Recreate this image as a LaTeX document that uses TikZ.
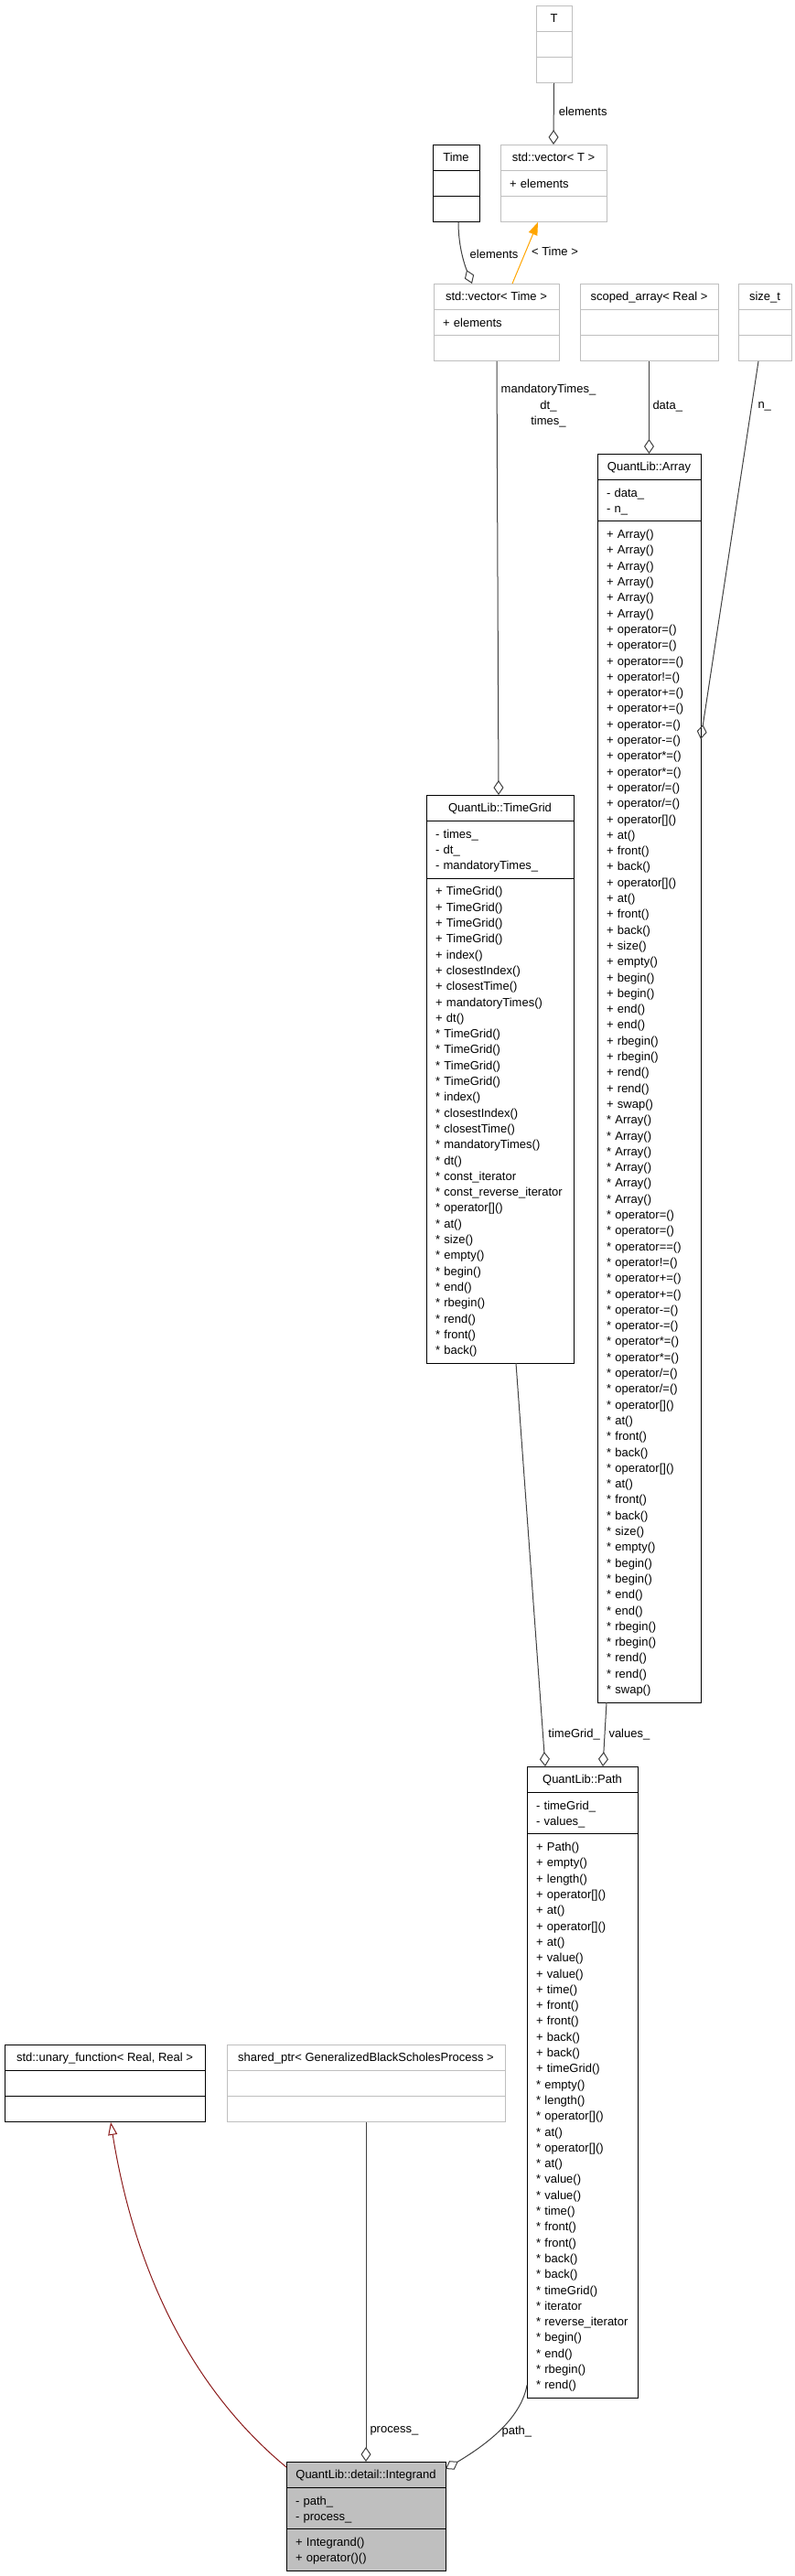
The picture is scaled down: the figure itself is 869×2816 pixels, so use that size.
\documentclass[tikz,border=0pt]{standalone}
\usepackage{fontspec}
\setmainfont{Liberation Sans}
\usepackage{tikz}
\usetikzlibrary{arrows.meta, positioning}
\definecolor{dxgrey}{RGB}{191, 191, 191}
\definecolor{dxedge}{RGB}{64, 64, 64}
\definecolor{dxred}{RGB}{139, 26, 26}
\definecolor{dxorange}{RGB}{255, 165, 0}
\newcommand\rowstrut{\rule[-4.1pt]{0pt}{17.3pt}}
\newcommand\arrayops[1]{{}#1 Array()\\{}#1 Array()\\{}#1 Array()\\{}#1 Array()\\{}#1 Array()\\{}#1 Array()\\%
{}#1 operator=()\\{}#1 operator=()\\{}#1 operator==()\\{}#1 operator!=()\\%
{}#1 operator+=()\\{}#1 operator+=()\\{}#1 operator-=()\\{}#1 operator-=()\\%
{}#1 operator*=()\\{}#1 operator*=()\\{}#1 operator/=()\\{}#1 operator/=()\\%
{}#1 operator[]()\\{}#1 at()\\{}#1 front()\\{}#1 back()\\{}#1 operator[]()\\{}#1 at()\\{}#1 front()\\{}#1 back()\\%
{}#1 size()\\{}#1 empty()\\{}#1 begin()\\{}#1 begin()\\{}#1 end()\\{}#1 end()\\%
{}#1 rbegin()\\{}#1 rbegin()\\{}#1 rend()\\{}#1 rend()\\{}#1 swap()}

\begin{document}
\begin{tikzpicture}[x=1pt, y=-1pt,
  cbox/.style={draw=black, line width=1pt, fill=white, outer sep=0pt,
    inner xsep=10pt, inner ysep=5.5pt, font=\fontsize{13}{17.3}\selectfont,
    execute at begin node=\rowstrut, execute at end node=\rowstrut},
  ctitle/.style={cbox, anchor=north west, minimum width=#1},
  cpart/.style={cbox, text width=#1, align=left},
  ext/.style={draw=dxgrey},
  cur/.style={fill=dxgrey},
  lbl/.style={text=black, font=\fontsize{13}{17.3}\selectfont, inner sep=2pt},
  uses/.style={dxedge, line width=1pt, -{Diamond[open, length=16pt, width=11pt]}},
  inherit/.style={dxred, line width=1pt, -{Triangle[open, length=14pt, width=10pt]}},
  inst/.style={dxorange, line width=1pt, -{Triangle[length=14pt, width=10pt]}}]
\useasboundingbox (0,0) rectangle (869,2816);
% Templates
\node[ctitle=39, ext] (tbox) at (586,6) {T};
\node[cpart=19, ext, below=0pt of tbox] (tboxa) {};
\node[cpart=19, ext, below=0pt of tboxa] (tboxm) {};
\node[ctitle=116, ext] (vect) at (547,158) {std::vector< T >};
\node[cpart=96, ext, below=0pt of vect] (vecta) {+ elements};
\node[cpart=96, ext, below=0pt of vecta] (vectm) {};
\node[ctitle=51] (timebox) at (473,158) {Time};
\node[cpart=31, below=0pt of timebox] (timeboxa) {};
\node[cpart=31, below=0pt of timeboxa] (timeboxm) {};
% Members of the classes
\node[ctitle=137, ext] (vtime) at (474,310) {std::vector< Time >};
\node[cpart=117, ext, below=0pt of vtime] (vtimea) {+ elements};
\node[cpart=117, ext, below=0pt of vtimea] (vtimem) {};
\node[ctitle=151, ext] (scoped) at (634,310) {scoped\_array< Real >};
\node[cpart=131, ext, below=0pt of scoped] (scopeda) {};
\node[cpart=131, ext, below=0pt of scopeda] (scopedm) {};
\node[ctitle=58, ext] (sizet) at (807,310) {size\_t};
\node[cpart=38, ext, below=0pt of sizet] (sizeta) {};
\node[cpart=38, ext, below=0pt of sizeta] (sizetm) {};
% Array
\node[ctitle=113] (arr) at (653,496) {QuantLib::Array};
\node[cpart=93, below=0pt of arr] (arra) {- data\_\\- n\_};
\node[cpart=93, below=0pt of arra] (arrm) {\arrayops{+}\\\arrayops{*}};
% TimeGrid
\node[ctitle=161] (tgrid) at (466,869) {QuantLib::TimeGrid};
\node[cpart=141, below=0pt of tgrid] (tgrida) {- times\_\\- dt\_\\- mandatoryTimes\_};
\node[cpart=141, below=0pt of tgrida] (tgridm) {+ TimeGrid()\\+ TimeGrid()\\+ TimeGrid()\\+ TimeGrid()\\+ index()\\+ closestIndex()\\+ closestTime()\\+ mandatoryTimes()\\+ dt()\\{}* TimeGrid()\\{}* TimeGrid()\\{}* TimeGrid()\\{}* TimeGrid()\\{}* index()\\{}* closestIndex()\\{}* closestTime()\\{}* mandatoryTimes()\\{}* dt()\\{}* const\_iterator\\{}* const\_reverse\_iterator\\{}* operator[]()\\{}* at()\\{}* size()\\{}* empty()\\{}* begin()\\{}* end()\\{}* rbegin()\\{}* rend()\\{}* front()\\{}* back()};
% Path
\node[ctitle=121] (path) at (576,1931) {QuantLib::Path};
\node[cpart=101, below=0pt of path] (patha) {- timeGrid\_\\- values\_};
\node[cpart=101, below=0pt of patha] (pathm) {+ Path()\\+ empty()\\+ length()\\+ operator[]()\\+ at()\\+ operator[]()\\+ at()\\+ value()\\+ value()\\+ time()\\+ front()\\+ front()\\+ back()\\+ back()\\+ timeGrid()\\{}* empty()\\{}* length()\\{}* operator[]()\\{}* at()\\{}* operator[]()\\{}* at()\\{}* value()\\{}* value()\\{}* time()\\{}* front()\\{}* front()\\{}* back()\\{}* back()\\{}* timeGrid()\\{}* iterator\\{}* reverse\_iterator\\{}* begin()\\{}* end()\\{}* rbegin()\\{}* rend()};
% Bottom row
\node[ctitle=219] (unary) at (5,2235) {std::unary\_function< Real, Real >};
\node[cpart=199, below=0pt of unary] (unarya) {};
\node[cpart=199, below=0pt of unarya] (unarym) {};
\node[ctitle=304, ext] (shared) at (248,2235) {shared\_ptr< GeneralizedBlackScholesProcess >};
\node[cpart=284, ext, below=0pt of shared] (shareda) {};
\node[cpart=284, ext, below=0pt of shareda] (sharedm) {};
\node[ctitle=174, cur] (integ) at (313,2691) {QuantLib::detail::Integrand};
\node[cpart=154, cur, below=0pt of integ] (intega) {- path\_\\- process\_};
\node[cpart=154, cur, below=0pt of intega] (integm) {+ Integrand()\\+ operator()()};
% Connectors
\draw[uses] (tboxm.south) -- node[lbl, right=3pt, pos=0.46] {elements} (vect.north);
\draw[uses] ([xshift=2.5pt]timeboxm.south) .. controls +(0,27) and +(-8,-20) .. ([xshift=-26.5pt]vtime.north) node[lbl, right=6pt, pos=0.48] {elements};
\draw[inst] ([xshift=17.5pt]vtime.north) -- node[lbl, right=4pt, pos=0.52] {< Time >} ([xshift=-17pt]vectm.south);
\draw[uses] ([xshift=0.5pt]vtimem.south) -- node[lbl, align=center, right=2pt, pos=0.103] {mandatoryTimes\_\\dt\_\\times\_} ([xshift=-1.5pt]tgrid.north);
\draw[uses] (scopedm.south) -- node[lbl, right=1.5pt, pos=0.485] {data\_} (arr.north);
\draw[uses] ([xshift=-7pt]sizetm.south) -- node[lbl, right=4.5pt, pos=0.119] {n\_} ([yshift=-238pt]arrm.north east);
\draw[uses] ([xshift=17.5pt]tgridm.south) -- node[lbl, right=3.5pt, pos=0.92] {timeGrid\_} ([xshift=-40.5pt]path.north);
\draw[uses] ([xshift=-46.5pt]arrm.south) -- node[lbl, right=2pt, pos=0.5] {values\_} ([xshift=22.5pt]path.north);
\draw[uses] ([yshift=14pt]pathm.south west) .. controls +(-6,33) and +(52,-31) .. ([yshift=-8pt]integ.north east) node[lbl, right=2pt, pos=0.55] {path\_};
\draw[uses] (sharedm.south) -- node[lbl, right=2pt, pos=0.908] {process\_} (integ.north);
\draw[inherit] ([yshift=-6pt]integ.north west) .. controls +(-93,-77) and +(29,180) .. ([xshift=6.5pt]unarym.south);
\end{tikzpicture}
\end{document}
